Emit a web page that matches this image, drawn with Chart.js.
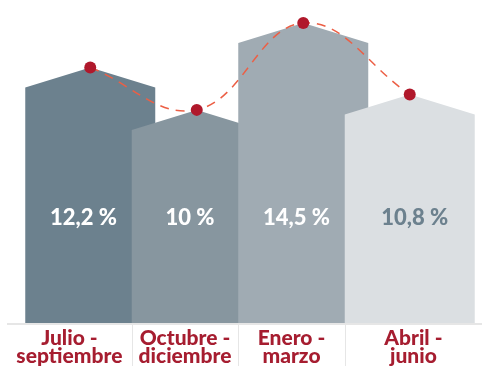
<!DOCTYPE html>
<html>
<head>
<meta charset="utf-8">
<script src="https://cdn.jsdelivr.net/npm/chart.js@4/dist/chart.umd.min.js"></script>
<style>
  html, body { margin: 0; padding: 0; background: #fff; }
</style>
</head>
<body>
<canvas id="chart-one" width="482" height="366"></canvas>
<script>
// data
var quarters = [["Julio -", "septiembre"], ["Octubre -", "diciembre"], ["Enero -", "marzo"], ["Abril -", "junio"]];
var rates = [12.2, 10, 14.5, 10.8];
var rateLabels = ["12,2 %", "10 %", "14,5 %", "10,8 %"];

var barColors = ["#6c818e", "#87969f", "#a0abb3", "#dbdfe2"];
var valueColors = ["#ffffff", "#ffffff", "#ffffff", "#6c818e"];
var ROOF = 20;

// house shaped bars + labels inside
var houses = {
  id: "houses",
  beforeDatasetsDraw: function (chart) {
    var ctx = chart.ctx;
    var bars = chart.getDatasetMeta(0).data;
    var base = chart.scales.y.getPixelForValue(0);
    ctx.save();
    bars.forEach(function (b, i) {
      var l = b.x - b.width / 2, r = b.x + b.width / 2;
      ctx.fillStyle = barColors[i];
      ctx.beginPath();
      ctx.moveTo(l, base);
      ctx.lineTo(l, b.y);
      ctx.lineTo(b.x, b.y - ROOF);
      ctx.lineTo(r, b.y);
      ctx.lineTo(r, base);
      ctx.closePath();
      ctx.fill();
    });
    var ty = chart.scales.y.getPixelForValue(5.5);
    ctx.font = "900 22px Lato";
    ctx.textAlign = "center";
    ctx.textBaseline = "middle";
    bars.forEach(function (b, i) {
      var l = b.x - b.width / 2;
      var r = i < bars.length - 1 ? bars[i + 1].x - bars[i + 1].width / 2 : b.x + b.width / 2;
      ctx.fillStyle = valueColors[i];
      ctx.fillText(rateLabels[i], (l + r) / 2 + 5, ty + 1);
    });
    ctx.restore();
  },
  beforeDatasetDraw: function (chart, args) {
    if (args.index === 1) {
      chart.ctx.save();
      chart.ctx.translate(0, -ROOF);
    }
  },
  afterDatasetDraw: function (chart, args) {
    if (args.index === 1) chart.ctx.restore();
  },
  afterDraw: function (chart) {
    var ctx = chart.ctx;
    var bars = chart.getDatasetMeta(0).data;
    var base = chart.scales.y.getPixelForValue(0);
    ctx.save();
    ctx.strokeStyle = "#e6e6e6";
    ctx.lineWidth = 2;
    ctx.beginPath();
    ctx.moveTo(7, base + 1);
    ctx.lineTo(chart.width, base + 1);
    ctx.stroke();
    ctx.lineWidth = 1;
    ctx.font = "900 21px Lato";
    ctx.textAlign = "center";
    ctx.textBaseline = "alphabetic";
    ctx.fillStyle = "#a61d30";
    bars.forEach(function (b, i) {
      var l = i === 0 ? 7 : b.x - b.width / 2;
      var r = i < bars.length - 1 ? bars[i + 1].x - bars[i + 1].width / 2 : chart.width;
      if (i > 0) {
        ctx.beginPath();
        ctx.moveTo(Math.round(l) + 0.5, base + 2);
        ctx.lineTo(Math.round(l) + 0.5, chart.height);
        ctx.stroke();
      }
      var cx = (l + r) / 2;
      ctx.fillText(quarters[i][0], cx, base + 22);
      ctx.fillText(quarters[i][1], cx, base + 40);
    });
    ctx.restore();
  }
};

new Chart("chart-one", {
  type: "bar",
  data: {
    labels: quarters,
    datasets: [{
      type: "bar",
      data: rates,
      backgroundColor: "rgba(0,0,0,0)",
      barThickness: 130
    }, {
      type: "line",
      data: rates,
      borderColor: "#ec5f45",
      borderWidth: 1.5,
      borderDash: [9, 7],
      tension: 0.4,
      fill: false,
      clip: false,
      pointRadius: 6,
      pointBorderWidth: 0,
      pointBackgroundColor: "#b0182b"
    }]
  },
  options: {
    responsive: false,
    animation: false,
    layout: { padding: { left: 37, right: 19, top: 14, bottom: 43 } },
    scales: {
      x: { display: false },
      y: { display: false, min: 0, max: 16 }
    },
    plugins: {
      legend: { display: false },
      tooltip: { enabled: false }
    }
  },
  plugins: [houses]
});
</script>
</body>
</html>
